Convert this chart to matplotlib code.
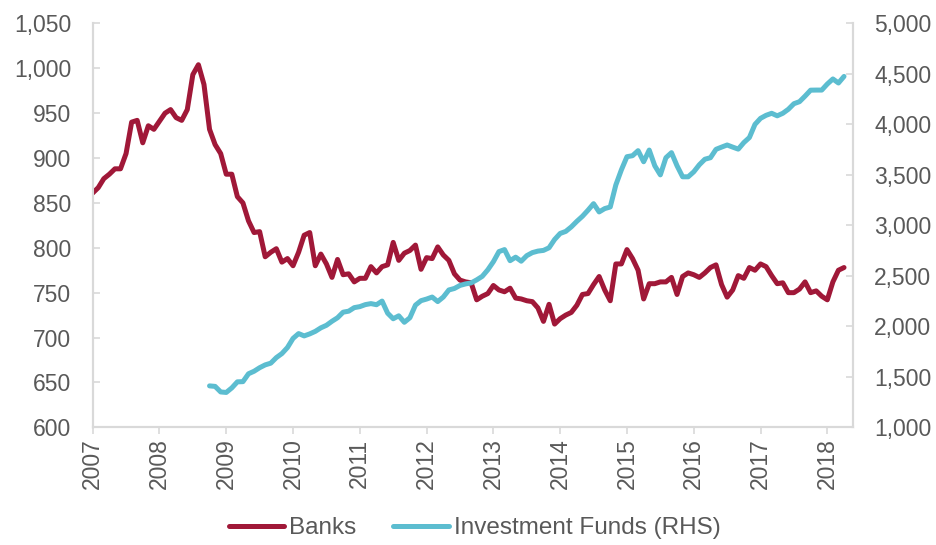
import matplotlib
matplotlib.use("Agg")
import matplotlib.pyplot as plt
from matplotlib.ticker import FuncFormatter, MultipleLocator
from matplotlib.lines import Line2D

plt.rcParams['font.family'] = ['Liberation Sans', 'DejaVu Sans']

# Monthly series, first point January 2007 for banks
banks_start = 2007.0
banks = [
    861, 867, 877, 882, 888, 888, 905, 940, 942, 917, 936, 932,
    941, 950, 954, 945, 942, 954, 993, 1004, 982, 932, 915, 905,
    882, 882, 857, 850, 830, 817, 818, 790, 795, 799, 784, 788,
    780, 795, 814, 817, 780, 793, 782, 767, 787, 770, 771, 762,
    766, 766, 779, 772, 779, 781, 806, 786, 794, 797, 803, 776,
    789, 788, 801, 792, 786, 771, 764, 762, 761, 742, 746, 749,
    758, 753, 751, 755, 744, 743, 741, 740, 733, 718, 737, 715,
    721, 725, 728, 736, 748, 749, 759, 768, 753, 741, 782, 782,
    798, 788, 775, 743, 760, 760, 762, 762, 767, 748, 768, 772,
    770, 767, 772, 778, 781, 759, 745, 753, 769, 766, 778, 775,
    782, 779, 769, 760, 761, 750, 750, 754, 762, 750, 752, 746,
    742, 762, 775, 778,
]

# Investment funds start in October 2008
funds_start = 2008 + 9 / 12
funds = [
    1410, 1405, 1350,
    1345, 1390, 1450, 1452, 1530, 1555, 1590, 1618, 1635, 1690, 1730, 1790,
    1880, 1928, 1905, 1925, 1950, 1985, 2010, 2050, 2085, 2140, 2150, 2185,
    2195, 2215, 2225, 2214, 2250, 2130, 2075, 2104, 2040, 2085, 2210, 2254,
    2270, 2290, 2245, 2290, 2360, 2375, 2405, 2420, 2430, 2460, 2495, 2560,
    2640, 2740, 2760, 2650, 2685, 2645, 2700, 2730, 2745, 2752, 2778, 2860,
    2920, 2940, 2985, 3040, 3090, 3150, 3215, 3133, 3166, 3182, 3400, 3550,
    3680, 3690, 3740, 3630, 3746, 3590, 3500, 3670, 3720, 3590, 3481, 3481,
    3530, 3600, 3655, 3670, 3753, 3775, 3796, 3775, 3755, 3820, 3870, 4000,
    4060, 4090, 4110, 4085, 4110, 4150, 4205, 4225, 4280, 4339, 4340, 4340,
    4400, 4450, 4410, 4475,
]

year_ticks = list(range(2007, 2019))

banks_x = [banks_start + i / 12 for i in range(len(banks))]
funds_x = [funds_start + i / 12 for i in range(len(funds))]

crimson = '#A01838'
cyan = '#5CBDD0'
grey_text = '#595959'
spine_col = '#D9D9D9'

fig = plt.figure(figsize=(9.36, 5.45), dpi=100)
ax = fig.add_axes([0.099, 0.216, 0.812, 0.741])
ax2 = ax.twinx()

ax.plot(banks_x, banks, color=crimson, lw=3.6, solid_joinstyle='round',
        solid_capstyle='round', zorder=3)
ax2.plot(funds_x, funds, color=cyan, lw=3.6, solid_joinstyle='round',
         solid_capstyle='round', zorder=3)

ax.set_xlim(2007, 2018.38)
ax.set_ylim(600, 1050)
ax2.set_ylim(1000, 5000)
ax.yaxis.set_major_locator(MultipleLocator(50))
ax2.yaxis.set_major_locator(MultipleLocator(500))
fmt = FuncFormatter(lambda v, p: f'{v:,.0f}')
ax.yaxis.set_major_formatter(fmt)
ax2.yaxis.set_major_formatter(fmt)
ax.set_xticks(year_ticks)
ax.set_xticklabels([str(y) for y in year_ticks], rotation=90)

for a in (ax, ax2):
    for s in a.spines.values():
        s.set_color(spine_col)
        s.set_linewidth(1.5)
    a.spines['top'].set_visible(False)

ax.tick_params(axis='y', direction='in', length=5, width=1.2, color=spine_col,
               labelsize=16.5, labelcolor=grey_text, pad=15.5)
ax2.tick_params(axis='y', direction='in', length=5, width=1.2, color=spine_col,
                labelsize=16.5, labelcolor=grey_text, pad=15.5)
ax.tick_params(axis='x', direction='out', length=5, width=1.2, color=spine_col,
               labelsize=16.5, labelcolor=grey_text, pad=3)

handles = [Line2D([], [], color=crimson, lw=3.6, solid_capstyle='round'),
           Line2D([], [], color=cyan, lw=3.6, solid_capstyle='round')]
leg = fig.legend(handles, ['Banks', 'Investment Funds (RHS)'], loc='center',
                 bbox_to_anchor=(0.507, 0.031), ncol=2, frameon=False,
                 fontsize=17.5, handlelength=2.3, handletextpad=0.2,
                 columnspacing=1.5)
for t in leg.get_texts():
    t.set_color(grey_text)

fig.savefig('out.png', dpi=100)
